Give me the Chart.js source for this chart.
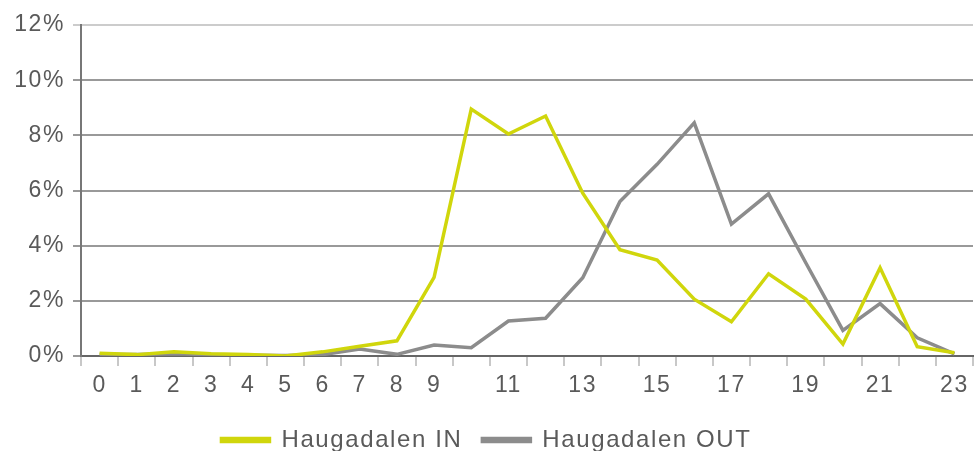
<!DOCTYPE html>
<html>
<head>
<meta charset="utf-8">
<script src="https://cdn.jsdelivr.net/npm/chart.js@4"></script>
<style>
  html, body { margin: 0; padding: 0; background: #fff; }
  #wrap { width: 976px; height: 451px; position: relative; }
</style>
</head>
<body>
<div id="wrap"><canvas id="trafficChart"></canvas></div>
<script>
// ===== DATA =====
const hours = ["0","1","2","3","4","5","6","7","8","9","10","11","12","13","14","15","16","17","18","19","20","21","22","23"];
const shownHours = ["0","1","2","3","4","5","6","7","8","9","11","13","15","17","19","21","23"];
const inValues = [0.1, 0.05, 0.15, 0.08, 0.05, 0.0, 0.15, 0.35, 0.55, 2.85, 8.95, 8.05, 8.7, 5.9, 3.85, 3.48, 2.06, 1.24, 2.98, 2.06, 0.43, 3.2, 0.34, 0.12];
const outValues = [0.05, 0.05, 0.08, 0.05, 0.03, 0.02, 0.05, 0.25, 0.06, 0.4, 0.3, 1.27, 1.37, 2.84, 5.6, 6.95, 8.45, 4.78, 5.88, 3.38, 0.93, 1.9, 0.66, 0.08];
const yTicks = [0, 2, 4, 6, 8, 10, 12];

const textColor = "#5a5a5a";
const font = { family: "Liberation Sans", size: 23 };

// wider letter spacing like the original rendering
const spacingPlugin = {
  id: "spacing",
  beforeUpdate(chart) {
    chart.ctx.letterSpacing = "1.6px";
  },
  beforeDraw(chart) {
    chart.ctx.letterSpacing = "1.6px";
  },
  afterLayout(chart) {
    // push legend row a bit lower, under the axis labels
    chart.legend.top += 11;
    chart.legend.bottom += 11;
  },
};

function renderChart() {
  const ctx = document.getElementById("trafficChart");

  new Chart(ctx, {
    type: "line",
    data: {
      labels: hours,
      datasets: [
        {
          label: "Haugadalen IN",
          data: inValues,
          borderColor: "#d0d60c",
          backgroundColor: "#d0d60c",
          borderWidth: 3.5,
          pointRadius: 0,
          tension: 0,
        },
        {
          label: "Haugadalen OUT",
          data: outValues,
          borderColor: "#8c8c8c",
          backgroundColor: "#8c8c8c",
          borderWidth: 3.5,
          pointRadius: 0,
          tension: 0,
        },
      ],
    },
    plugins: [spacingPlugin],
    options: {
      responsive: true,
      maintainAspectRatio: false,
      animation: false,
      layout: { padding: { top: 25, right: 3, left: 0, bottom: 0 } },
      plugins: {
        tooltip: { enabled: false },
        legend: {
          position: "bottom",
          labels: {
            color: textColor,
            font: { family: "Liberation Sans", size: 24 },
            boxWidth: 48,
            boxHeight: 3,
            padding: 20,
          },
        },
      },
      scales: {
        x: {
          offset: true,
          afterFit: function (scale) {
            scale.height = 41;
          },
          grid: {
            offset: true,
            drawOnChartArea: false,
            drawTicks: true,
            tickLength: 10,
            color: "#c8c8c8",
            lineWidth: 2,
          },
          border: { color: "#666", width: 2 },
          ticks: {
            color: textColor,
            font: font,
            autoSkip: false,
            maxRotation: 0,
            padding: 6,
            callback: function (value, index) {
              const label = hours[index];
              return shownHours.includes(label) ? label : "";
            },
          },
        },
        y: {
          min: 0,
          max: 12,
          afterBuildTicks: function (scale) {
            scale.ticks = yTicks.map((v) => ({ value: v }));
          },
          afterFit: function (scale) {
            scale.width = 81;
          },
          grid: {
            color: function (c) {
              return c.tick && c.tick.value === 12 ? "#cccccc" : "#999999";
            },
            lineWidth: 2,
            tickLength: 8,
          },
          border: { color: "#777", width: 2 },
          ticks: {
            color: textColor,
            font: font,
            padding: 8,
            callback: function (value) {
              return value + "%";
            },
          },
        },
      },
    },
  });
}

renderChart();
</script>
</body>
</html>
